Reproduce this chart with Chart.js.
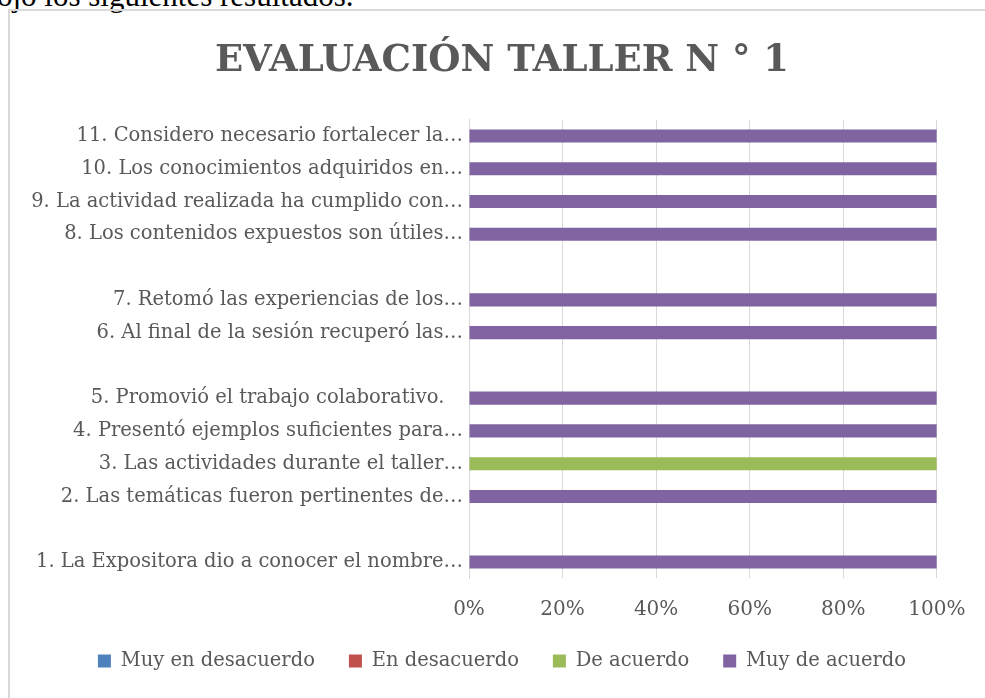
<!DOCTYPE html>
<html>
<head>
<meta charset="utf-8">
<script src="https://cdn.jsdelivr.net/npm/chart.js@4/dist/chart.umd.min.js"></script>
<style>
  html, body { margin: 0; padding: 0; background: #fff; width: 985px; height: 698px; overflow: hidden; }
  .doc-text { position: absolute; left: -3px; top: -17px; font: 31px/25px "Liberation Serif", serif; color: #000; white-space: nowrap; }
  .frame { position: absolute; left: 8px; top: 9px; width: 1200px; height: 1000px; border-left: 2px solid #d9d9d9; border-top: 2px solid #d9d9d9; }
  .wrap { position: absolute; left: 11px; top: 12px; width: 974px; height: 686px; }
</style>
</head>
<body>
<div class="doc-text">ojo los siguientes resultados.</div>
<div class="frame"></div>
<div class="wrap"><canvas id="tallerChart" width="974" height="686"></canvas></div>
<script>
// preguntas, de arriba hacia abajo (las vacías son filas en blanco del gráfico original)
const preguntas = [
    '11. Considero necesario fortalecer la…',
    '10. Los conocimientos adquiridos en…',
    '9. La actividad realizada ha cumplido con…',
    '8. Los contenidos expuestos son útiles…',
    '',
    '7. Retomó las experiencias de los…',
    '6. Al final de la sesión recuperó las…',
    '',
    '5. Promovió el trabajo colaborativo.   ',
    '4. Presentó ejemplos suficientes para…',
    '3. Las actividades durante el taller…',
    '2. Las temáticas fueron pertinentes de…',
    '',
    '1. La Expositora dio a conocer el nombre…'
];

const muyEnDesacuerdo = [0, 0, 0, 0, 0, 0, 0, 0, 0, 0, 0, 0, 0, 0];
const enDesacuerdo    = [0, 0, 0, 0, 0, 0, 0, 0, 0, 0, 0, 0, 0, 0];
const deAcuerdo       = [0, 0, 0, 0, 0, 0, 0, 0, 0, 0, 100, 0, 0, 0];
const muyDeAcuerdo    = [100, 100, 100, 100, 0, 100, 100, 0, 100, 100, 0, 100, 0, 100];

const porcentajes = [0, 20, 40, 60, 80, 100];

const gris = '#595959';
const fuente = '"DejaVu Serif", "Liberation Serif", serif';

document.addEventListener('DOMContentLoaded', () => {
    const ctx = document.getElementById('tallerChart').getContext('2d');

    new Chart(ctx, {
        type: 'bar',
        data: {
            labels: preguntas,
            datasets: [
                { label: 'Muy en desacuerdo', data: muyEnDesacuerdo, backgroundColor: '#4F81BD' },
                { label: 'En desacuerdo', data: enDesacuerdo, backgroundColor: '#C0504D' },
                { label: 'De acuerdo', data: deAcuerdo, backgroundColor: '#9BBB59' },
                { label: 'Muy de acuerdo', data: muyDeAcuerdo, backgroundColor: '#8064A2' },
            ],
        },
        options: {
            indexAxis: 'y',
            responsive: false,
            animation: false,
            borderWidth: 0,
            categoryPercentage: 1,
            barPercentage: 0.4,
            layout: { padding: { left: 8, right: 0, top: 0, bottom: 17.25 } },
            plugins: {
                title: {
                    display: true,
                    text: 'EVALUACIÓN TALLER N ° 1',
                    color: gris,
                    font: { family: fuente, size: 37, weight: 'bold', lineHeight: 1.2 },
                    padding: { top: 26.8, bottom: 36.4 },
                },
                legend: {
                    position: 'bottom',
                    labels: {
                        color: gris,
                        boxWidth: 13,
                        boxHeight: 13,
                        padding: 34,
                        font: { family: fuente, size: 19.5 },
                    },
                },
                tooltip: { enabled: false },
            },
            scales: {
                x: {
                    stacked: true,
                    min: 0,
                    max: 100,
                    afterBuildTicks: s => { s.ticks = porcentajes.map(v => ({ value: v })); },
                    afterFit: s => { s.height = 38.85; },
                    grid: { color: '#d9d9d9', drawTicks: false },
                    border: { display: false },
                    ticks: {
                        color: gris,
                        padding: 19.6,
                        font: { family: fuente, size: 20 },
                        callback: v => v + '%',
                    },
                },
                y: {
                    stacked: true,
                    afterFit: s => { s.width = 450; },
                    grid: { display: false, drawTicks: false },
                    border: { display: true, color: '#d9d9d9', width: 1 },
                    ticks: {
                        color: gris,
                        padding: 6,
                        autoSkip: false,
                        font: { family: fuente, size: 19.5 },
                    },
                },
                margen: {
                    type: 'linear',
                    position: 'right',
                    afterFit: s => { s.width = 48; },
                    grid: { display: false },
                    border: { display: false },
                    ticks: { display: false },
                },
            },
        },
    });
});
</script>
</body>
</html>
